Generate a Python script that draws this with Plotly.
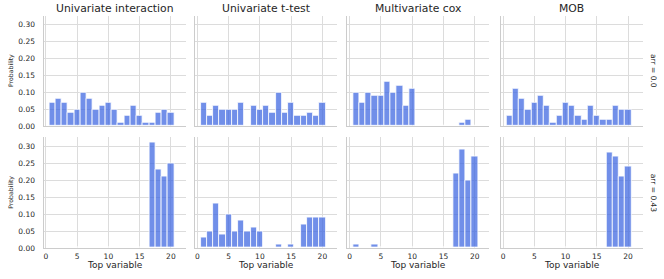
import plotly.graph_objects as go

W, H = 664, 279

methods = ["Univariate interaction", "Univariate t-test", "Multivariate cox", "MOB"]
arr_labels = ["arr = 0.0", "arr = 0.43"]
top_variable = list(range(1, 21))

# Probabilities per top variable (1..20), row arr = 0.0
uni_inter_arr0 = [0.07, 0.08, 0.07, 0.04, 0.05, 0.10, 0.08, 0.05, 0.06, 0.07,
                  0.05, 0.01, 0.03, 0.06, 0.03, 0.01, 0.01, 0.04, 0.05, 0.04]
uni_ttest_arr0 = [0.07, 0.03, 0.06, 0.05, 0.05, 0.05, 0.07, 0.00, 0.06, 0.05,
                  0.06, 0.04, 0.10, 0.04, 0.07, 0.03, 0.03, 0.04, 0.03, 0.07]
multi_cox_arr0 = [0.10, 0.07, 0.10, 0.09, 0.09, 0.13, 0.10, 0.12, 0.06, 0.11,
                  0.00, 0.00, 0.00, 0.00, 0.00, 0.00, 0.00, 0.01, 0.02, 0.00]
mob_arr0 = [0.03, 0.11, 0.08, 0.05, 0.07, 0.09, 0.06, 0.01, 0.03, 0.07,
            0.06, 0.03, 0.02, 0.06, 0.03, 0.02, 0.02, 0.06, 0.05, 0.05]

# row arr = 0.43
uni_inter_arr43 = [0.00, 0.00, 0.00, 0.00, 0.00, 0.00, 0.00, 0.00, 0.00, 0.00,
                   0.00, 0.00, 0.00, 0.00, 0.00, 0.00, 0.31, 0.23, 0.21, 0.25]
uni_ttest_arr43 = [0.03, 0.05, 0.13, 0.04, 0.10, 0.05, 0.08, 0.05, 0.06, 0.05,
                   0.00, 0.00, 0.01, 0.00, 0.01, 0.00, 0.07, 0.09, 0.09, 0.09]
multi_cox_arr43 = [0.01, 0.00, 0.00, 0.01, 0.00, 0.00, 0.00, 0.00, 0.00, 0.00,
                   0.00, 0.00, 0.00, 0.00, 0.00, 0.00, 0.22, 0.29, 0.20, 0.27]
mob_arr43 = [0.00, 0.00, 0.00, 0.00, 0.00, 0.00, 0.00, 0.00, 0.00, 0.00,
             0.00, 0.00, 0.00, 0.00, 0.00, 0.00, 0.28, 0.27, 0.21, 0.24]

rows = [
    [uni_inter_arr0, uni_ttest_arr0, multi_cox_arr0, mob_arr0],
    [uni_inter_arr43, uni_ttest_arr43, multi_cox_arr43, mob_arr43],
]

y_ticks = [0.0, 0.05, 0.10, 0.15, 0.20, 0.25, 0.30]
x_ticks = [0, 5, 10, 15, 20]

FONT = "DejaVu Sans"
TXT = "#262626"
GRID = "#dcdcdc"
SPINE = "#cccccc"
BAR = "rgba(65,105,225,0.75)"

col_left = [43.5, 195.0, 347.3, 500.7]
col_w = 142.0
row_top = [16.0, 140.0]
row_h = 112.5
x_range = [-0.38, 22.34]
y_range = [0, 0.3255]

fig = go.Figure()
layout = dict(
    width=W, height=H, margin=dict(l=0, r=0, t=0, b=0),
    paper_bgcolor="white", plot_bgcolor="white", showlegend=False,
    font=dict(family=FONT, color=TXT, size=8), bargap=0,
)
annotations = []

for r in range(2):
    for c in range(4):
        idx = r * 4 + c + 1
        sfx = "" if idx == 1 else str(idx)
        x0 = col_left[c] / W
        x1 = (col_left[c] + col_w) / W
        y1 = 1 - row_top[r] / H
        y0 = 1 - (row_top[r] + row_h) / H
        fig.add_trace(go.Bar(
            x=top_variable, y=rows[r][c], width=1.0,
            marker=dict(color=BAR, line=dict(color="white", width=0.8)),
            xaxis="x" + sfx, yaxis="y" + sfx, hoverinfo="skip",
        ))
        layout["xaxis" + sfx] = dict(
            domain=[x0, x1], range=x_range, anchor="y" + sfx,
            tickvals=x_ticks, ticktext=[str(t) for t in x_ticks],
            showticklabels=(r == 1), ticks="", ticklabelstandoff=1,
            tickfont=dict(size=7.5, color=TXT, family=FONT),
            showgrid=True, gridcolor=GRID, gridwidth=1, zeroline=False,
            showline=True, linecolor=SPINE, linewidth=1, fixedrange=True,
        )
        layout["yaxis" + sfx] = dict(
            domain=[y0, y1], range=y_range, anchor="x" + sfx,
            tickvals=y_ticks, ticktext=["%.2f" % t for t in y_ticks],
            showticklabels=(c == 0), ticks="", ticklabelstandoff=6,
            tickfont=dict(size=7.5, color=TXT, family=FONT),
            showgrid=True, gridcolor=GRID, gridwidth=1, zeroline=False,
            showline=True, linecolor=SPINE, linewidth=1, fixedrange=True,
        )
        xc = (col_left[c] + col_w / 2) / W
        if r == 0:
            annotations.append(dict(
                text=methods[c], x=xc, y=1 - 9 / H, xref="paper", yref="paper",
                xanchor="center", yanchor="middle", showarrow=False,
                font=dict(size=10.8, color=TXT, family=FONT)))
        if r == 1:
            annotations.append(dict(
                text="Top variable", x=xc, y=1 - 264 / H, xref="paper", yref="paper",
                xanchor="center", yanchor="top", showarrow=False, borderpad=0,
                font=dict(size=9, color=TXT, family=FONT)))
    yc = 1 - (row_top[r] + row_h / 2) / H
    annotations.append(dict(
        text="Probability", x=11 / W, y=yc, xref="paper", yref="paper",
        xanchor="center", yanchor="middle", showarrow=False, textangle=-90,
        font=dict(size=6.2, color=TXT, family=FONT)))
    annotations.append(dict(
        text=arr_labels[r], x=653 / W, y=yc, xref="paper", yref="paper",
        xanchor="center", yanchor="middle", showarrow=False, textangle=90,
        font=dict(size=7.5, color=TXT, family=FONT)))

layout["annotations"] = annotations
fig.update_layout(**layout)
fig.write_html("out.html", config={"displayModeBar": False},
               post_script="document.body.style.margin='0px';")
